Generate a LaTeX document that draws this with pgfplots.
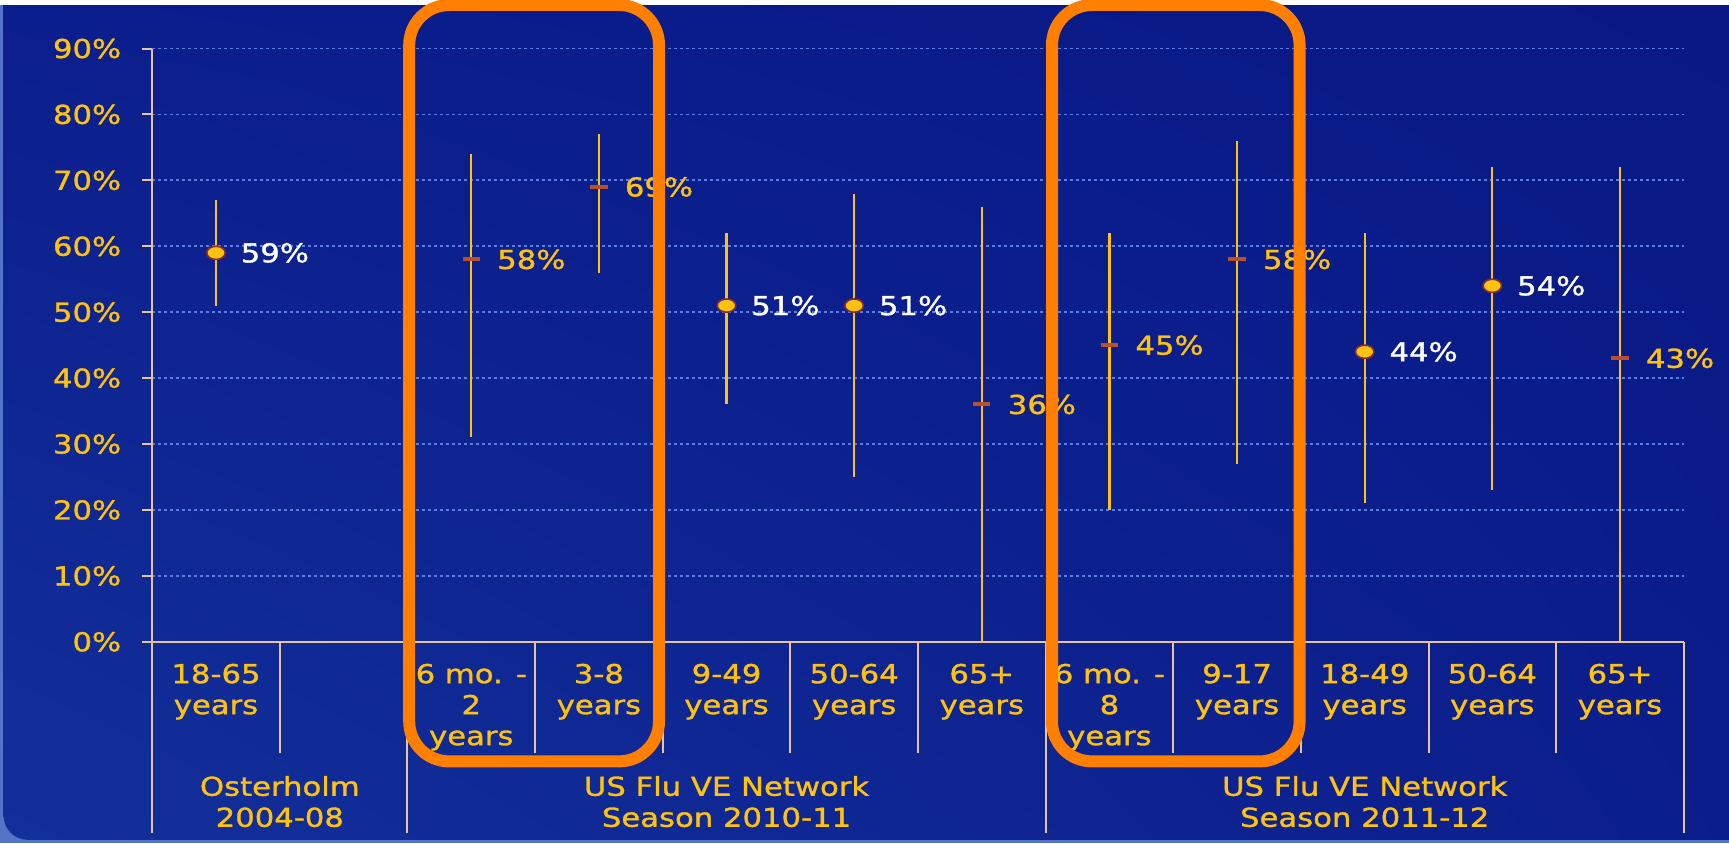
\documentclass[border=0pt]{standalone}
\usepackage{pgfplots}
\pgfplotsset{compat=1.18}
\usepackage{pgfplotstable}
\usetikzlibrary{shadings}
\usepackage{fontspec}
\setmainfont[FakeStretch=1.18, FakeBold=1.2]{DejaVu Sans}

\definecolor{navy}{HTML}{0B1D8C}
\definecolor{navylight}{HTML}{12309A}
\definecolor{navydark}{HTML}{081884}
\definecolor{slideedge}{HTML}{5474C8}
\definecolor{gold}{HTML}{FFC20E}
\definecolor{tan}{HTML}{E8C49C}
\definecolor{gridblue}{HTML}{5A7EDC}
\definecolor{boxorange}{HTML}{FF8000}
\definecolor{markred}{HTML}{8B2A2A}
\definecolor{dashred}{HTML}{B8502E}

\newcommand\lbl{\fontsize{13}{15.5}\selectfont}

% vaccine effectiveness: estimate, upper CI distance, lower CI distance
\pgfplotstableread{
x    y   ep  em
0.5  59  8   8
4.5  51  11  15
5.5  51  17  26
9.5  44  18  23
10.5 54  18  31
}\circdata

\pgfplotstableread{
x    y   ep  em
2.5  58  16  27
3.5  69  8   13
6.5  36  30  36
7.5  45  17  25
8.5  58  18  31
11.5 43  29  43
}\dashdata

\begin{document}
\begin{tikzpicture}[x=1pt,y=1pt]
% slide background
\fill[slideedge] (0,0) rectangle (864.5,421.5);
\shade[upper left=navy, upper right=navydark, lower left=navylight, lower right=navy, rounded corners=12pt]
  (1.8,1.6) rectangle (880,440);
\fill[white] (0,419) rectangle (864.5,421.5);

\begin{axis}[
  at={(76.1pt,100.6pt)}, anchor=south west,
  scale only axis, width=765.8pt, height=296.65pt,
  xmin=0, xmax=12, ymin=0, ymax=90,
  clip=false,
  axis x line*=bottom, axis y line*=left,
  axis line style={draw=tan, line width=1pt},
  tick align=outside, major tick length=5.3pt,
  xtick style={draw=none},
  ytick style={draw=tan, line width=1pt},
  ytick={0,10,20,30,40,50,60,70,80,90},
  yticklabels={0\%,10\%,20\%,30\%,40\%,50\%,60\%,70\%,80\%,90\%},
  yticklabel style={anchor=east, inner sep=0pt, xshift=-10pt, font=\lbl, text=gold},
  xtick={0.5,2.5,3.5,4.5,5.5,6.5,7.5,8.5,9.5,10.5,11.5},
  xticklabels={{18-65\\years},{6 mo. -\\2\\years},{3-8\\years},{9-49\\years},{50-64\\years},{65+\\years},{6 mo. -\\8\\years},{9-17\\years},{18-49\\years},{50-64\\years},{65+\\years}},
  xticklabel style={align=center, anchor=north, inner sep=0pt, yshift=-5.5pt, font=\lbl, text=gold},
  ymajorgrids,
  grid style={gridblue, line width=0.9pt, dash pattern=on 1.2pt off 1.8pt},
  /pgf/number format/assume math mode=true,
]
% estimates shown with a round marker
\addplot[only marks, mark=*, mark size=3.3pt,
  mark options={xscale=1.4, fill=gold, draw=markred, line width=0.8pt},
  point meta=y,
  nodes near coords={\pgfmathprintnumber{\pgfplotspointmeta}\%},
  nodes near coords style={anchor=west, xshift=12pt, inner sep=0pt, font=\lbl, text=white},
  error bars/.cd, y dir=both, y explicit, error mark=none,
  error bar style={gold, line width=1.1pt},
] table[x=x, y=y, y error plus=ep, y error minus=em] {\circdata};

% estimates shown with a dash marker
\addplot[only marks, mark=-, mark size=4.3pt,
  mark options={draw=dashred, line width=2pt},
  point meta=y,
  nodes near coords={\pgfmathprintnumber{\pgfplotspointmeta}\%},
  nodes near coords style={anchor=west, xshift=12pt, inner sep=0pt, font=\lbl, text=gold},
  error bars/.cd, y dir=both, y explicit, error mark=none,
  error bar style={gold, line width=1.1pt},
] table[x=x, y=y, y error plus=ep, y error minus=em] {\dashdata};

% category separators below the axis
\pgfplotsinvokeforeach{1,3,4,5,6,8,9,10,11}{
  \draw[tan, line width=1pt] (axis cs:#1,0) -- ++(0,-55.7pt);
}
\pgfplotsinvokeforeach{0,2,7,12}{
  \draw[tan, line width=1pt] (axis cs:#1,0) -- ++(0,-95.4pt);
}
% study groups
\node[anchor=north, align=center, inner sep=0pt, font=\lbl, text=gold]
  at (axis cs:1,0) [yshift=-66.9pt] {Osterholm\\2004-08};
\node[anchor=north, align=center, inner sep=0pt, font=\lbl, text=gold]
  at (axis cs:4.5,0) [yshift=-66.9pt] {US Flu VE Network\\Season 2010-11};
\node[anchor=north, align=center, inner sep=0pt, font=\lbl, text=gold]
  at (axis cs:9.5,0) [yshift=-66.9pt] {US Flu VE Network\\Season 2011-12};
\end{axis}

% highlight frames
\draw[boxorange, line width=6pt, rounded corners=20pt] (204.6,40.8) rectangle (329.5,419);
\draw[boxorange, line width=6pt, rounded corners=20pt] (526.0,40.8) rectangle (649.8,419);

\pgfresetboundingbox
\useasboundingbox (0,0) rectangle (864.5,421.5);
\end{tikzpicture}
\end{document}
